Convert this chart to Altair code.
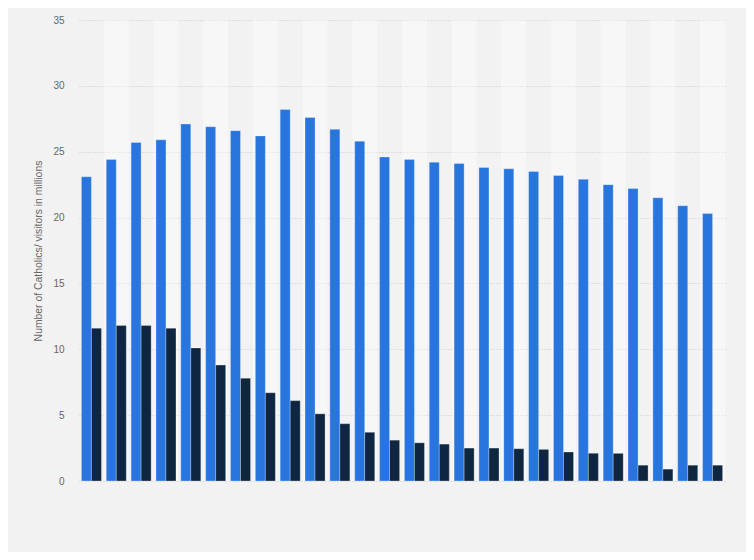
import altair as alt
import pandas as pd

years = ["1950", "1955", "1960", "1965", "1970", "1975", "1980", "1985", "1990",
         "1995", "2000", "2005", "2010", "2011", "2012", "2013", "2014", "2015",
         "2016", "2017", "2018", "2019", "2020", "2021", "2022", "2023"]
catholics = [23.1, 24.4, 25.7, 25.9, 27.1, 26.9, 26.6, 26.2, 28.2, 27.6, 26.7, 25.8,
             24.6, 24.4, 24.2, 24.1, 23.8, 23.7, 23.5, 23.2, 22.9, 22.5, 22.2, 21.5,
             20.9, 20.3]
visitors = [11.6, 11.8, 11.8, 11.6, 10.1, 8.8, 7.8, 6.7, 6.1, 5.1, 4.35, 3.7,
            3.1, 2.9, 2.8, 2.5, 2.5, 2.45, 2.4, 2.2, 2.1, 2.1, 1.2, 0.9, 1.2, 1.2]
series = ["Catholics", "Visitors"]
colors = ["#2876dd", "#0f2640"]

rows = []
for i, y in enumerate(years):
    rows.append({"year": y, "series": series[0], "value": catholics[i]})
    rows.append({"year": y, "series": series[1], "value": visitors[i]})
df = pd.DataFrame(rows)

bands = pd.DataFrame({"year": years, "shade": [i % 2 for i in range(len(years))]})

xscale = alt.Scale(domain=years, paddingInner=0, paddingOuter=0)

bg = alt.Chart(bands).mark_rect(fill="#ffffff").encode(
    x=alt.X("year:N", scale=xscale, axis=None),
    opacity=alt.condition("datum.shade == 1", alt.value(0.38), alt.value(0)),
)

bars = alt.Chart(df).mark_bar(stroke="#ffffff", strokeOpacity=0.35, strokeWidth=0.8).encode(
    x=alt.X("year:N", scale=xscale, sort=years,
            axis=alt.Axis(labels=False, ticks=False, title=None, domain=True,
                          domainColor="#333333", domainWidth=1.2, grid=False, zindex=1)),
    xOffset=alt.XOffset("series:N", sort=series,
                        scale=alt.Scale(domain=series, paddingInner=0, paddingOuter=0.24)),
    y=alt.Y("value:Q", scale=alt.Scale(domain=[0, 35], nice=False),
            axis=alt.Axis(values=[0, 5, 10, 15, 20, 25, 30, 35], title="Number of Catholics/ visitors in millions",
                          titleFont="Liberation Sans", titleFontSize=10.4, titleFontWeight="normal",
                          titleColor="#666666", titlePadding=9,
                          labelFont="Liberation Sans", labelFontSize=10, labelColor="#666666",
                          labelPadding=15, ticks=False, domain=False,
                          grid=True, gridColor="#c8c8c8", gridDash=[1, 2], gridWidth=1)),
    color=alt.Color("series:N", scale=alt.Scale(domain=series, range=colors), legend=None),
)

chart = alt.layer(bg, bars).properties(
    width=646, height=461,
    background="#f2f2f2",
    padding={"left": 71, "top": 12, "right": 21, "bottom": 71},
    autosize=alt.AutoSizeParams(type="none"),
).configure_view(stroke=None)

chart.save("out.html", embed_options={"renderer": "svg", "actions": False})
